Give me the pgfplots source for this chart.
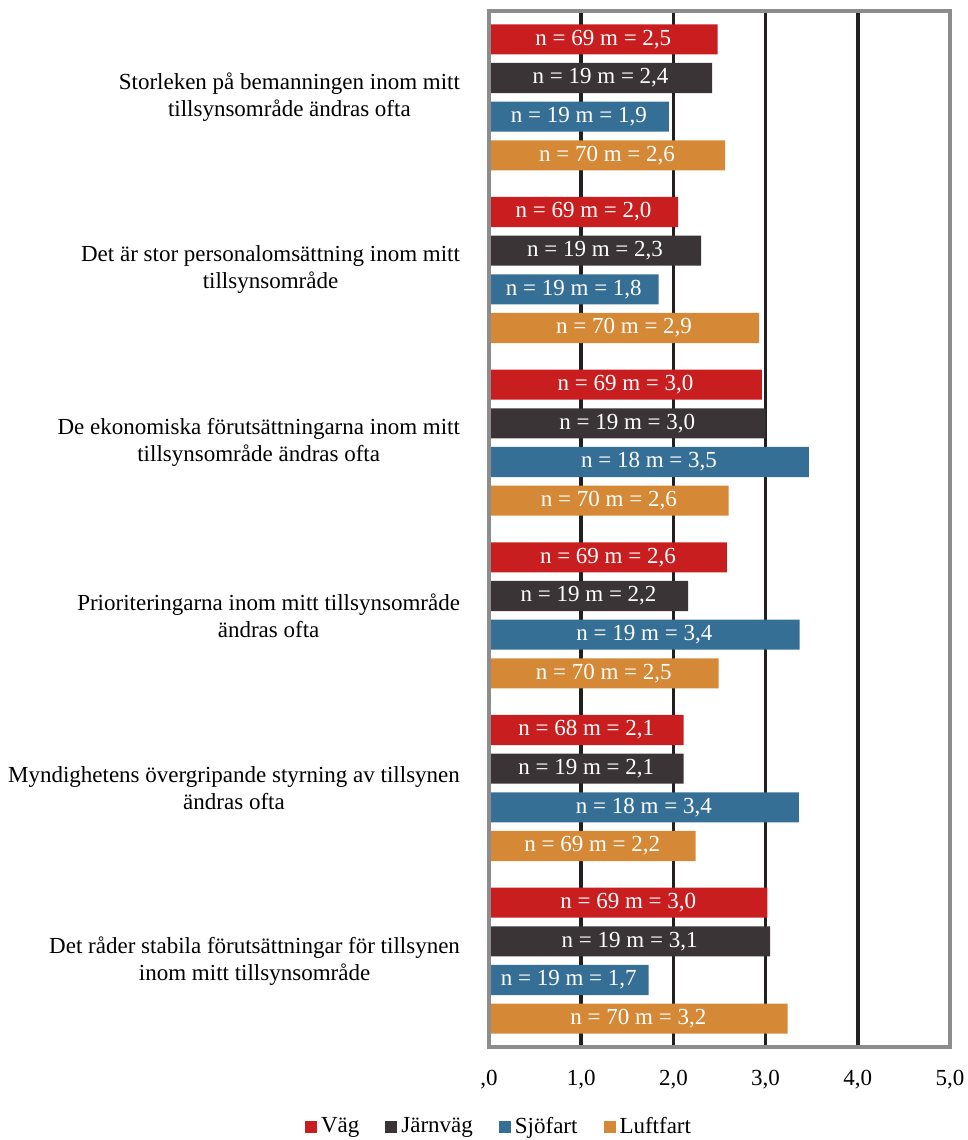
\documentclass[border=0pt]{standalone}
\usepackage{fontspec}
\setmainfont{Liberation Serif}
\usepackage{pgfplots}
\usepackage{pgfplotstable}
\pgfplotsset{compat=1.18}
\definecolor{cvag}{RGB}{200,30,32}
\definecolor{cjarn}{RGB}{58,52,54}
\definecolor{csjo}{RGB}{54,111,150}
\definecolor{cluft}{RGB}{213,137,54}
\definecolor{cborder}{RGB}{140,140,140}
\definecolor{cgrid}{RGB}{35,31,32}
\newcommand{\fs}{\fontsize{11.5}{13.5}\selectfont}

\pgfplotstableread{
y v lab
5.336 2.48 {n = 69 m = 2,5}
4.336 2.05 {n = 69 m = 2,0}
3.336 2.96 {n = 69 m = 3,0}
2.336 2.58 {n = 69 m = 2,6}
1.336 2.11 {n = 68 m = 2,1}
0.336 3.02 {n = 69 m = 3,0}
}\vag
\pgfplotstableread{
y v lab
5.112 2.42 {n = 19 m = 2,4}
4.112 2.30 {n = 19 m = 2,3}
3.112 3.00 {n = 19 m = 3,0}
2.112 2.16 {n = 19 m = 2,2}
1.112 2.11 {n = 19 m = 2,1}
0.112 3.05 {n = 19 m = 3,1}
}\jarn
\pgfplotstableread{
y v lab
4.888 1.95 {n = 19 m = 1,9}
3.888 1.84 {n = 19 m = 1,8}
2.888 3.47 {n = 18 m = 3,5}
1.888 3.37 {n = 19 m = 3,4}
0.888 3.36 {n = 18 m = 3,4}
-0.112 1.73 {n = 19 m = 1,7}
}\sjo
\pgfplotstableread{
y v lab
4.664 2.56 {n = 70 m = 2,6}
3.664 2.93 {n = 70 m = 2,9}
2.664 2.60 {n = 70 m = 2,6}
1.664 2.49 {n = 70 m = 2,5}
0.664 2.24 {n = 69 m = 2,2}
-0.336 3.24 {n = 70 m = 3,2}
}\luft

\begin{document}
\begin{tikzpicture}
\useasboundingbox (-244.5pt,-46.5pt) rectangle (239.5pt,523.5pt);
\begin{axis}[
  at={(0,0)}, anchor=south west,
  width=230.5pt, height=518pt, scale only axis,
  xmin=0, xmax=5, ymin=-0.5, ymax=5.5,
  clip=false,
  xtick={0,1,2,3,4,5},
  xticklabels={{,0},{1,0},{2,0},{3,0},{4,0},{5,0}},
  xticklabel style={font=\fs, yshift=-8pt},
  ytick={0,1,2,3,4,5},
  yticklabels={
    {Det råder stabila förutsättningar för tillsynen\\inom mitt tillsynsområde},
    {Myndighetens övergripande styrning av tillsynen\\ändras ofta},
    {Prioriteringarna inom mitt tillsynsområde\\ändras ofta},
    {De ekonomiska förutsättningarna inom mitt\\tillsynsområde ändras ofta},
    {Det är stor personalomsättning inom mitt\\tillsynsområde},
    {Storleken på bemanningen inom mitt\\tillsynsområde ändras ofta}},
  yticklabel style={font=\fs, align=center, xshift=-11pt},
  major tick length=0pt,
  xmajorgrids,
  major grid style={cgrid, line width=1.8pt},
  axis line style={draw=none},
  legend style={at={(0.024,-0.077)}, anchor=center, draw=none, fill=none,
    legend columns=-1, font=\fs,
    /tikz/every even column/.append style={column sep=11pt}},
  legend image code/.code={\fill[#1] (0pt,-3pt) rectangle (6pt,3pt);},
]
\addplot[xbar, bar width=0.174, bar shift=0pt, fill=cvag, draw=none] table[x=v, y=y] \vag;
\addlegendentry{Väg}
\addplot[xbar, bar width=0.174, bar shift=0pt, fill=cjarn, draw=none] table[x=v, y=y] \jarn;
\addlegendentry{Järnväg}
\addplot[xbar, bar width=0.174, bar shift=0pt, fill=csjo, draw=none] table[x=v, y=y] \sjo;
\addlegendentry{Sjöfart}
\addplot[xbar, bar width=0.174, bar shift=0pt, fill=cluft, draw=none] table[x=v, y=y] \luft;
\addlegendentry{Luftfart}

\pgfplotsset{every node near coord/.style={anchor=center, text=white, font=\fs, inner sep=0pt}}
\addplot[draw=none, mark=none, forget plot, nodes near coords, point meta=explicit symbolic] table[x expr=\thisrow{v}/2, y=y, meta=lab] \vag;
\addplot[draw=none, mark=none, forget plot, nodes near coords, point meta=explicit symbolic] table[x expr=\thisrow{v}/2, y=y, meta=lab] \jarn;
\addplot[draw=none, mark=none, forget plot, nodes near coords, point meta=explicit symbolic] table[x expr=\thisrow{v}/2, y=y, meta=lab] \sjo;
\addplot[draw=none, mark=none, forget plot, nodes near coords, point meta=explicit symbolic] table[x expr=\thisrow{v}/2, y=y, meta=lab] \luft;

\draw[cborder, line width=2pt] (rel axis cs:0,0) rectangle (rel axis cs:1,1);
\end{axis}
\end{tikzpicture}
\end{document}
